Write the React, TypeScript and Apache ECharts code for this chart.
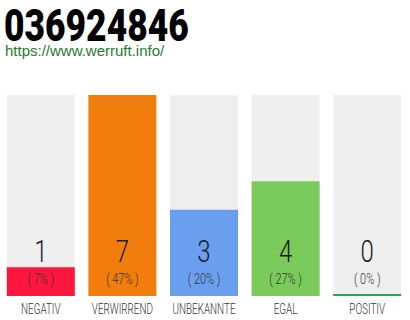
import React, { useEffect, useRef } from "react";
import * as echarts from "echarts";

const title = "036924846";
const siteUrl = "https://www.werruft.info/";
const categories = ["NEGATIV", "VERWIRREND", "UNBEKANNTE", "EGAL", "POSITIV"];
const counts = [1, 7, 3, 4, 0];
const percents = [7, 47, 20, 27, 0];
const barColors = ["#ff163c", "#f07d0c", "#6a9ff0", "#7aca5c", "#22aa44"];

export default function App() {
  const ref = useRef<HTMLDivElement>(null);

  useEffect(() => {
    if (!ref.current) return;
    const chart = echarts.init(ref.current, undefined, { renderer: "svg" });
    const maxCount = Math.max(...counts);

    chart.setOption({
      animation: false,
      backgroundColor: "#ffffff",
      graphic: [
        {
          type: "text",
          x: 4,
          y: 4,
          scaleX: 0.805,
          style: {
            text: title,
            font: "900 44px Roboto",
            fill: "#000000",
          },
        },
        {
          type: "text",
          x: 5,
          y: 43,
          style: {
            text: siteUrl,
            font: "15px 'Liberation Sans'",
            fill: "#1b7d2b",
          },
        },
      ],
      grid: { left: -2, top: 95, width: 410, height: 201, containLabel: false },
      xAxis: {
        type: "category",
        data: categories,
        axisLine: { show: false },
        axisTick: { show: false },
        axisLabel: { show: false },
      },
      yAxis: {
        type: "value",
        min: 0,
        max: maxCount,
        show: false,
      },
      series: [
        {
          type: "bar",
          barWidth: 68,
          barMinHeight: 2,
          showBackground: true,
          backgroundStyle: { color: "#efefef" },
          data: counts.map((v, i) => ({ value: v, itemStyle: { color: barColors[i] } })),
          z: 2,
        },
        {
          // count, share and category name stacked under each column
          type: "custom",
          silent: true,
          z: 5,
          clip: false,
          data: counts.map((v, i) => [i, v, percents[i]]),
          renderItem: (params: any, api: any) => {
            const i = params.dataIndex;
            const base = api.coord([api.value(0), 0]);
            return {
              type: "group",
              children: [
                {
                  type: "text",
                  x: base[0],
                  y: base[1] - 45,
                  scaleX: 0.75,
                  style: {
                    text: String(counts[i]),
                    font: "300 32px Roboto",
                    fill: "#1a1a1a",
                    textAlign: "center",
                    textVerticalAlign: "middle",
                  },
                },
                {
                  type: "text",
                  x: base[0],
                  y: base[1] - 17,
                  scaleX: 0.78,
                  style: {
                    text: "( " + percents[i] + "% )",
                    font: "300 14px Roboto",
                    fill: "#333333",
                    textAlign: "center",
                    textVerticalAlign: "middle",
                  },
                },
                {
                  type: "text",
                  x: base[0],
                  y: base[1] + 12.5,
                  scaleX: 0.66,
                  style: {
                    text: categories[i],
                    font: "300 15px Roboto",
                    fill: "#333333",
                    textAlign: "center",
                    textVerticalAlign: "middle",
                  },
                },
              ],
            };
          },
        },
      ],
    });

    return () => chart.dispose();
  }, []);

  return <div ref={ref} style={{ width: 410, height: 320, position: "absolute", left: 0, top: 0 }} />;
}
